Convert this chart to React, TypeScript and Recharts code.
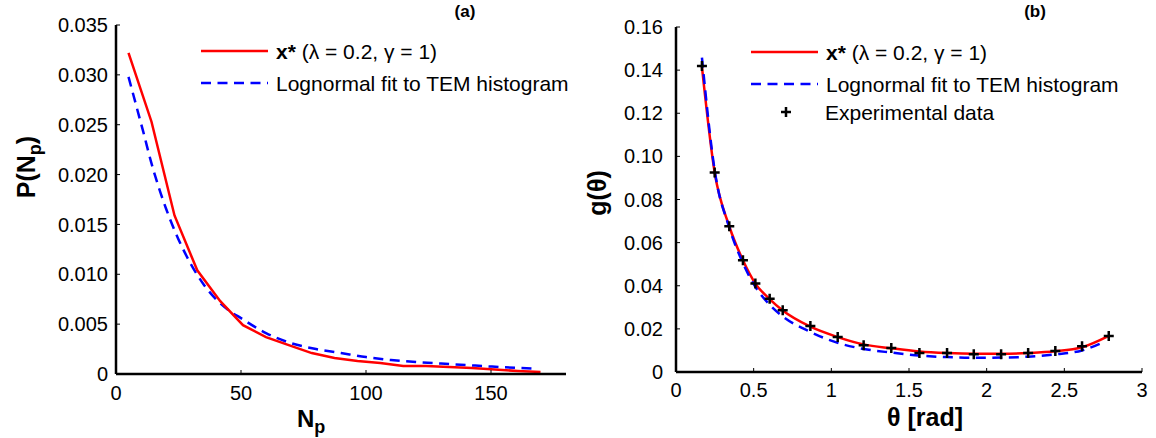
import React from 'react';
import { ComposedChart, Line, Scatter, XAxis, YAxis } from 'recharts';

// panel (a): particle-number distribution
const npXStar = [5, 14.2, 23.4, 32.5, 41.7, 50.8, 60, 69.1, 78.3, 87.4, 96.6, 105.7, 114.9, 124, 133.2, 142.4, 151.5, 160.7, 169.8];
const pXStar = [0.0322, 0.0253, 0.0159, 0.0104, 0.0073, 0.0049, 0.0037, 0.0029, 0.0021, 0.0016, 0.0013, 0.0011, 0.0008, 0.0008, 0.0007, 0.0006, 0.00045, 0.0003, 0.0002];
const npLognormal = [5, 8, 11, 14, 17, 20, 25, 30, 35, 40, 45, 50, 60, 70, 80, 90, 100, 110, 120, 130, 140, 150, 160, 167];
const pLognormal = [0.0298, 0.027, 0.0242, 0.0213, 0.0188, 0.0166, 0.0135, 0.011, 0.009, 0.0075, 0.0064, 0.0056, 0.0041, 0.0031, 0.0025, 0.0021, 0.0017, 0.0014, 0.0012, 0.00105, 0.0009, 0.00075, 0.00062, 0.00055];
const npTicks = [0, 50, 100, 150];
const pTicks = [0, 0.005, 0.01, 0.015, 0.02, 0.025, 0.03, 0.035];

// panel (b): angle distribution
const theta = [0.167, 0.249, 0.343, 0.431, 0.511, 0.603, 0.687, 0.865, 1.041, 1.208, 1.386, 1.567, 1.745, 1.917, 2.093, 2.267, 2.442, 2.614, 2.786];
const gXStar = [0.1415, 0.0925, 0.0676, 0.0518, 0.041, 0.0338, 0.0285, 0.021, 0.0162, 0.0128, 0.011, 0.0095, 0.0088, 0.0085, 0.0085, 0.0088, 0.0096, 0.0115, 0.0168];
const thetaLognormal = [0.167, 0.249, 0.343, 0.431, 0.511, 0.603, 0.687, 0.865, 1.041, 1.208, 1.386, 1.567, 1.745, 1.917, 2.093, 2.267, 2.442, 2.614, 2.753];
const gLognormal = [0.1458, 0.0935, 0.067, 0.0505, 0.0395, 0.0312, 0.0258, 0.0186, 0.0135, 0.0107, 0.009, 0.0076, 0.0069, 0.0066, 0.0067, 0.0071, 0.0082, 0.01, 0.0139];
const gExperimental = [0.1419, 0.0925, 0.0676, 0.0518, 0.041, 0.034, 0.0286, 0.0213, 0.0162, 0.0124, 0.0111, 0.0088, 0.0088, 0.0082, 0.0082, 0.0088, 0.0097, 0.0119, 0.0167];
const thetaTicks = [0, 0.5, 1, 1.5, 2, 2.5, 3];
const gTicks = [0, 0.02, 0.04, 0.06, 0.08, 0.1, 0.12, 0.14, 0.16];

const FONT = '"Liberation Sans", Arial, Helvetica, sans-serif';
const RED = '#ff0000';
const BLUE = '#0000ff';

const toPoints = (xs: number[], ys: number[]) => xs.map((x, i) => ({ x, y: ys[i] }));

const tickStyle = { fill: '#000', fontSize: 20, fontFamily: FONT };
const axisLine = { stroke: '#000', strokeWidth: 2.5 };
const tickLine = { stroke: '#000', strokeWidth: 1 };

const PlusShape = (props: any) => {
  const { cx, cy } = props;
  if (cx == null || cy == null) return null;
  return <path d={`M${cx - 5},${cy}h10M${cx},${cy - 5}v10`} stroke="#000" strokeWidth={2.5} fill="none" />;
};

const LegendBox = ({ left, top, showExperimental }: { left: number; top: number; showExperimental?: boolean }) => (
  <svg
    width={420}
    height={100}
    style={{ position: 'absolute', left, top, overflow: 'visible', fontFamily: FONT }}
  >
    <line x1={0} y1={21} x2={67} y2={21} stroke={RED} strokeWidth={2.5} />
    <text x={75} y={29} fontSize={21} fill="#000">
      <tspan fontWeight="bold">x*</tspan>
      <tspan> (λ = 0.2, γ = 1)</tspan>
    </text>
    <line x1={0} y1={53} x2={67} y2={53} stroke={BLUE} strokeWidth={2.5} strokeDasharray="10 6.5" />
    <text x={75} y={61} fontSize={21} fill="#000">Lognormal fit to TEM histogram</text>
    {showExperimental && (
      <>
        <path d="M30,81h10M35,76v10" stroke="#000" strokeWidth={2.5} />
        <text x={74} y={89} fontSize={21} fill="#000">Experimental data</text>
      </>
    )}
  </svg>
);

export default function App() {
  const leftRed = toPoints(npXStar, pXStar);
  const leftBlue = toPoints(npLognormal, pLognormal);
  const rightRed = toPoints(theta, gXStar);
  const rightBlue = toPoints(thetaLognormal, gLognormal);
  const rightExp = toPoints(theta, gExperimental);

  return (
    <div style={{ position: 'absolute', left: 0, top: 0, width: 1156, height: 438, background: '#fff', fontFamily: FONT }}>
      {/* panel (a) */}
      <div style={{ position: 'absolute', left: 0, top: 0 }}>
        <ComposedChart width={580} height={438} margin={{ top: 25, right: 14, bottom: 0, left: 0 }}>
          <XAxis
            type="number"
            dataKey="x"
            domain={[0, 180]}
            ticks={npTicks}
            interval={0}
            tickSize={-4}
            tickMargin={16}
            height={64}
            axisLine={axisLine}
            tickLine={tickLine}
            tick={tickStyle}
            allowDataOverflow
          />
          <YAxis
            type="number"
            dataKey="y"
            domain={[0, 0.035]}
            ticks={pTicks}
            interval={0}
            tickSize={-4}
            tickMargin={12}
            width={116}
            axisLine={axisLine}
            tickLine={tickLine}
            tick={tickStyle}
            tickFormatter={(v: number) => (v === 0 ? '0' : v.toFixed(3))}
            allowDataOverflow
          />
          <Line data={leftBlue} dataKey="y" type="monotone" stroke={BLUE} strokeWidth={2.5} strokeDasharray="10 6.5" dot={false} isAnimationActive={false} />
          <Line data={leftRed} dataKey="y" type="linear" stroke={RED} strokeWidth={2.5} dot={false} isAnimationActive={false} />
        </ComposedChart>
        <svg width={580} height={438} style={{ position: 'absolute', left: 0, top: 0, pointerEvents: 'none' }}>
          <text x={0} y={0} transform="translate(35,167) rotate(-90)" textAnchor="middle" fontSize={25} fontWeight="bold" fontFamily={FONT} fill="#000">
            P(N<tspan fontSize={18} dy={6}>p</tspan><tspan dy={-6}>)</tspan>
          </text>
          <text x={297} y={427} fontSize={24} fontWeight="bold" fontFamily={FONT} fill="#000">
            N<tspan fontSize={18} dy={6}>p</tspan>
          </text>
          <text x={465} y={17} textAnchor="middle" fontSize={17} fontWeight="bold" fontFamily={FONT} fill="#000">(a)</text>
        </svg>
        <LegendBox left={201} top={30} />
      </div>

      {/* panel (b) */}
      <div style={{ position: 'absolute', left: 580, top: 0 }}>
        <ComposedChart width={576} height={438} margin={{ top: 27, right: 14, bottom: 0, left: 0 }}>
          <XAxis
            type="number"
            dataKey="x"
            domain={[0, 3]}
            ticks={thetaTicks}
            interval={0}
            tickSize={-4}
            tickMargin={15}
            height={66}
            axisLine={axisLine}
            tickLine={tickLine}
            tick={tickStyle}
            allowDataOverflow
          />
          <YAxis
            type="number"
            dataKey="y"
            domain={[0, 0.16]}
            ticks={gTicks}
            interval={0}
            tickSize={-4}
            tickMargin={17}
            width={96}
            axisLine={axisLine}
            tickLine={tickLine}
            tick={tickStyle}
            tickFormatter={(v: number) => (v === 0 ? '0' : v.toFixed(2))}
            allowDataOverflow
          />
          <Line data={rightRed} dataKey="y" type="monotone" stroke={RED} strokeWidth={2.5} dot={false} isAnimationActive={false} />
          <Line data={rightBlue} dataKey="y" type="monotone" stroke={BLUE} strokeWidth={2.5} strokeDasharray="10 6.5" dot={false} isAnimationActive={false} />
          <Scatter data={rightExp} dataKey="y" shape={PlusShape} isAnimationActive={false} />
        </ComposedChart>
        <svg width={576} height={438} style={{ position: 'absolute', left: 0, top: 0, pointerEvents: 'none' }}>
          <text x={0} y={0} transform="translate(26,193) rotate(-90)" textAnchor="middle" fontSize={25} fontWeight="bold" fontFamily={FONT} fill="#000">
            g(θ)
          </text>
          <text x={345} y={426} textAnchor="middle" fontSize={25} fontWeight="bold" fontFamily={FONT} fill="#000">
            θ [rad]
          </text>
          <text x={455} y={17} textAnchor="middle" fontSize={17} fontWeight="bold" fontFamily={FONT} fill="#000">(b)</text>
        </svg>
        <LegendBox left={171} top={31} showExperimental />
      </div>
    </div>
  );
}
